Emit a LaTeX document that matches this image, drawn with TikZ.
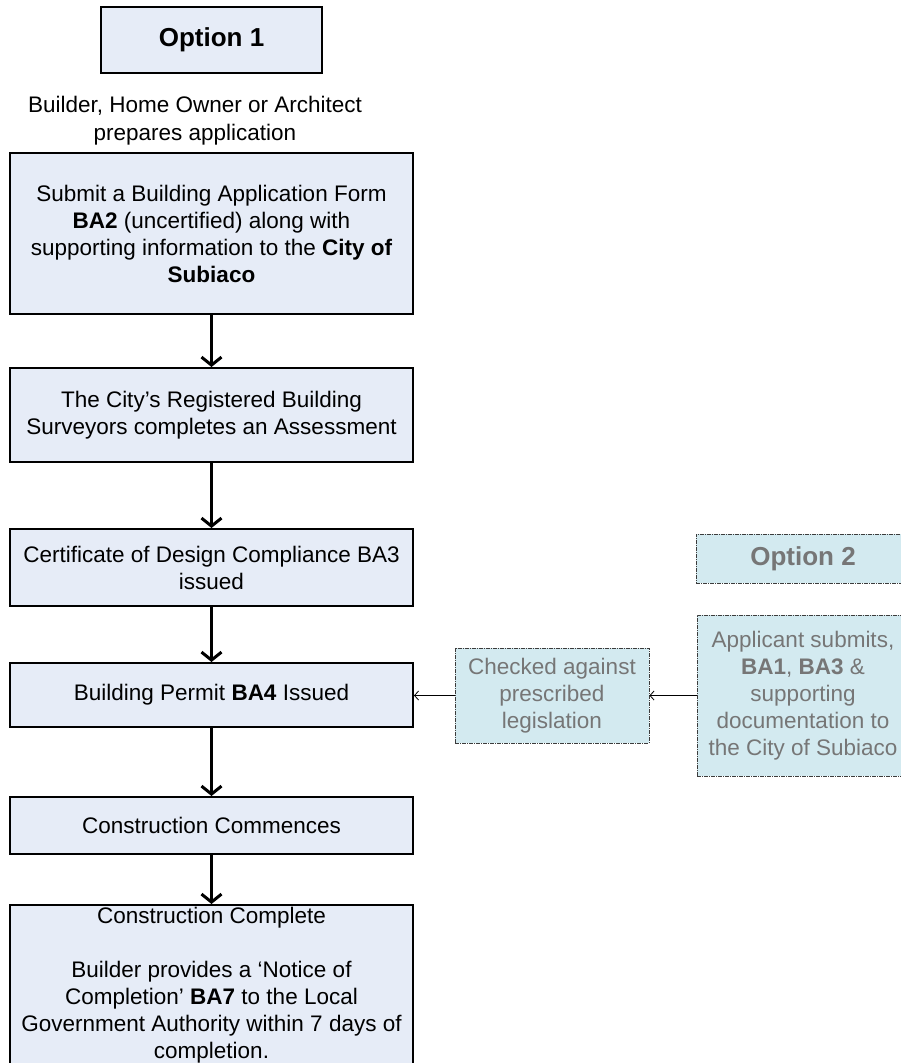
\documentclass[tikz,border=0pt]{standalone}
\usepackage{fontspec}
\setmainfont{Liberation Sans}
\usetikzlibrary{arrows.meta}
\definecolor{boxfill}{RGB}{230,236,247}
\definecolor{aquafill}{RGB}{211,234,240}
\definecolor{greytext}{RGB}{118,118,118}
\definecolor{dashline}{RGB}{60,60,60}
\begin{document}
\begin{tikzpicture}[x=1pt,y=-1pt,
  mainbox/.style={draw=black, line width=2pt, fill=boxfill, align=center, inner sep=0pt, minimum width=403pt, font=\fontsize{22.5}{27}\selectfont},
  aquabox/.style={draw=dashline, line width=1pt, dash pattern=on 4pt off 1pt on 1pt off 1pt, fill=aquafill, text=greytext, align=center, inner sep=0pt, font=\fontsize{22.5}{27}\selectfont},
  titlefont/.style={font=\bfseries\fontsize{26}{31}\selectfont},
  flow/.style={line width=3pt, -{Straight Barb[length=8pt,width=20pt]}},
  thinarrow/.style={line width=0.8pt, -{Straight Barb[length=4pt,width=9pt]}}]
\useasboundingbox (0,0) rectangle (901,1063);
\clip (0,0) rectangle (901,1063);

% Option 1 column
\node[mainbox, titlefont, minimum width=221pt, minimum height=66pt] (opt1) at (211.5,40) {Option 1};
\node[align=center, inner sep=0pt, font=\fontsize{22.5}{28}\selectfont] (prep) at (195,121) {Builder, Home Owner or Architect\\prepares application};

\node[mainbox, minimum height=161pt] (b1) at (211.5,233.5) {Submit a Building Application Form\\\textbf{BA2} (uncertified) along with\\supporting information to the \textbf{City of}\\\textbf{Subiaco}};
\node[mainbox, minimum height=94pt] (b2) at (211.5,415) {The City's Registered Building\\Surveyors completes an Assessment};
\node[mainbox, minimum height=77pt] (b3) at (211.5,567.5) {Certificate of Design Compliance BA3\\issued};
\node[mainbox, minimum height=64pt] (b4) at (211.5,695) {Building Permit \textbf{BA4} Issued};
\node[mainbox, minimum height=57pt] (b5) at (211.5,825.5) {Construction Commences};
\node[mainbox, minimum height=161pt] (b6) at (211.5,985.5) {Construction Complete\\[27pt]Builder provides a `Notice of\\Completion' \textbf{BA7} to the Local\\Government Authority within 7 days of\\completion.};

\draw[flow] (b1.south) -- (b2.north);
\draw[flow] (b2.south) -- (b3.north);
\draw[flow] (b3.south) -- (b4.north);
\draw[flow] (b4.south) -- (b5.north);
\draw[flow] (b5.south) -- (b6.north);

% Option 2 column
\node[aquabox, titlefont, minimum width=214pt, minimum height=49pt] (opt2) at (803,558.5) {Option 2};
\node[aquabox, minimum width=212pt, minimum height=161pt] (appl) at (803,695.5) {Applicant submits,\\\textbf{BA1}, \textbf{BA3} \&\\supporting\\documentation to\\the City of Subiaco};
\node[aquabox, minimum width=194pt, minimum height=95pt] (chk) at (552,695.5) {Checked against\\prescribed\\legislation};

\draw[thinarrow] (appl.west) -- (chk.east);
\draw[thinarrow] (chk.west) -- (chk.west -| b4.east);
\end{tikzpicture}
\end{document}
